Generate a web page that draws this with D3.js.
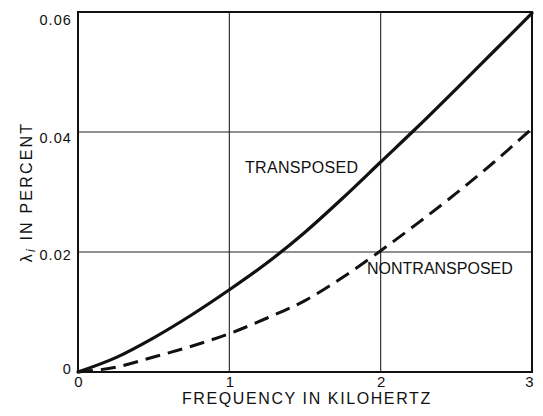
<!DOCTYPE html>
<html>
<head>
<meta charset="utf-8">
<script src="https://cdn.jsdelivr.net/npm/d3@7/dist/d3.min.js"></script>
<style>
  html, body { margin: 0; padding: 0; background: #fff; }
  svg text { font-family: "Liberation Sans", Arial, sans-serif; fill: #111; }
</style>
</head>
<body>
<svg id="chart" width="543" height="416"></svg>
<script>
// Frequency (kHz) sample points
const frequency = [0, 0.25, 0.5, 0.75, 1, 1.25, 1.5, 1.75, 2, 2.25, 2.5, 2.75, 3];
// Loss ratio λi (percent) for the two line configurations
const transposed    = [0, 0.0024, 0.0057, 0.0095, 0.0137, 0.0182, 0.0233, 0.0290, 0.0350, 0.0410, 0.0472, 0.0535, 0.0598];
const nontransposed = [0, 0.0008, 0.0025, 0.0043, 0.0064, 0.0090, 0.0119, 0.0158, 0.0202, 0.0249, 0.0298, 0.0350, 0.0406];
// Axis ticks
const xTicks = [0, 1, 2, 3];
const xTickLabels = ["0", "1", "2", "3"];
const yTicks = [0, 0.02, 0.04, 0.06];
const yTickLabels = ["0", "0.02", "0.04", "0.06"];

const svg = d3.select("#chart");
const plotLeft = 78, plotRight = 532, plotTop = 12, plotBottom = 372;

const x = d3.scaleLinear().domain([0, 3]).range([plotLeft, plotRight]);
const y = d3.scaleLinear().domain([0, 0.06]).range([plotBottom, plotTop]);

// grid lines
const grid = svg.append("g").attr("stroke", "#222").attr("stroke-width", 1.1);
xTicks.slice(1, -1).forEach(t => {
  grid.append("line").attr("x1", x(t)).attr("x2", x(t)).attr("y1", plotTop).attr("y2", plotBottom);
});
yTicks.slice(1, -1).forEach(t => {
  grid.append("line").attr("x1", plotLeft).attr("x2", plotRight).attr("y1", y(t)).attr("y2", y(t));
});

// frame
svg.append("rect")
  .attr("x", plotLeft).attr("y", plotTop)
  .attr("width", plotRight - plotLeft).attr("height", plotBottom - plotTop)
  .attr("fill", "none").attr("stroke", "#111").attr("stroke-width", 2);

// axes (labels only, the frame carries the lines)
const tickFont = "DejaVu Sans, Liberation Sans, sans-serif";
const xAxis = d3.axisBottom(x).tickValues(xTicks)
  .tickFormat((d, i) => xTickLabels[i]).tickSize(0).tickPadding(4);
const gx = svg.append("g").attr("transform", `translate(0,${plotBottom})`).call(xAxis);
gx.select(".domain").remove();
gx.selectAll("text").attr("font-size", 15).attr("font-family", tickFont).attr("fill", "#111")
  .attr("dx", (d, i) => i === xTicks.length - 1 ? -3 : 0);

const yAxis = d3.axisLeft(y).tickValues(yTicks)
  .tickFormat((d, i) => yTickLabels[i]).tickSize(0).tickPadding(6);
const gy = svg.append("g").attr("transform", `translate(${plotLeft},0)`).call(yAxis);
gy.select(".domain").remove();
const yLabelShift = [-3, 3, 6, 8];
gy.selectAll("text").attr("font-size", 14.5).attr("font-family", tickFont).attr("fill", "#111")
  .attr("letter-spacing", 1.1)
  .attr("y", (d, i) => yLabelShift[i]);

// curves
const line = d3.line().x((d, i) => x(frequency[i])).y(d => y(d)).curve(d3.curveMonotoneX);

svg.append("path").datum(transposed)
  .attr("d", line).attr("fill", "none").attr("stroke", "#111")
  .attr("stroke-width", 3.2).attr("stroke-linecap", "round");

svg.append("path").datum(nontransposed)
  .attr("d", line).attr("fill", "none").attr("stroke", "#111")
  .attr("stroke-width", 3).attr("stroke-dasharray", "15,8");

// curve labels
svg.append("text").attr("x", 245).attr("y", 173)
  .attr("font-size", 16).attr("letter-spacing", 0.3).text("TRANSPOSED");
svg.append("text").attr("x", 367).attr("y", 274)
  .attr("font-size", 16).text("NONTRANSPOSED");

// axis titles
svg.append("text").attr("x", 182).attr("y", 404)
  .attr("font-size", 16).attr("letter-spacing", 1.6).text("FREQUENCY IN KILOHERTZ");

const yt = svg.append("text")
  .attr("transform", "translate(32,192) rotate(-90)")
  .attr("text-anchor", "middle").attr("font-size", 16).attr("letter-spacing", 2.2);
yt.append("tspan").text("λ");
yt.append("tspan").attr("font-size", 12).attr("font-style", "italic").attr("dy", 3).text("i");
yt.append("tspan").attr("dy", -3).text(" IN PERCENT");
</script>
</body>
</html>
